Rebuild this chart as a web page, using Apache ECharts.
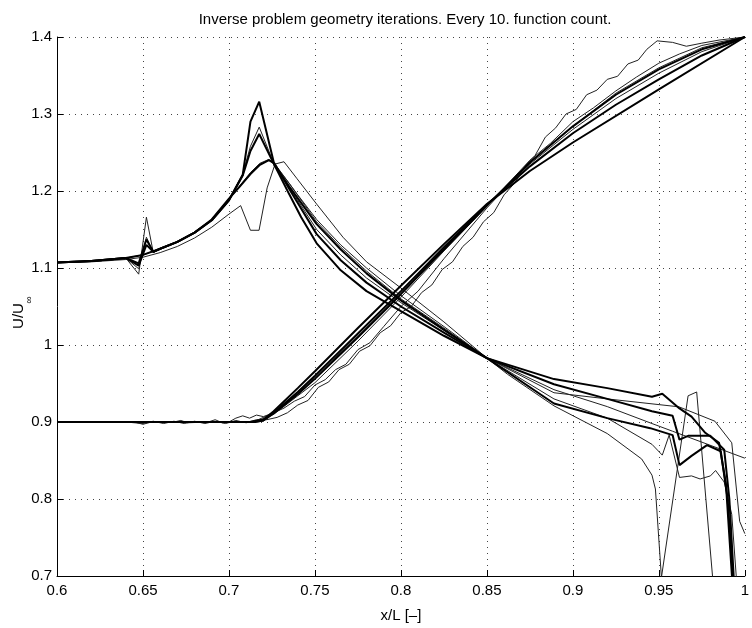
<!DOCTYPE html>
<html>
<head>
<meta charset="UTF-8">
<title>Inverse problem geometry iterations</title>
<script type="text/javascript" src="https://cdn.jsdelivr.net/npm/echarts@6.0.0/dist/echarts.min.js"></script>
</head>
<body style="margin:0">
<div id="main" style="width:752px;height:628px"></div>
<script type="text/javascript">
// velocity curves, one array of [x/L, U/Uinf] per iteration
// family A: starts at 1.107, peak near 0.72, drops at the trailing edge
var a1 = [[0.6,1.107],[0.62,1.109],[0.64,1.113],[0.6475,1.106],[0.652,1.137],[0.656,1.121],[0.66,1.125],[0.67,1.134],[0.68,1.146],[0.69,1.162],[0.7,1.188],[0.708,1.221],[0.7125,1.29],[0.7176,1.316],[0.7264,1.234],[0.735,1.196],[0.742,1.166],[0.751,1.132],[0.765,1.097],[0.78,1.07],[0.8,1.044],[0.825,1.012],[0.85,0.983],[0.889,0.924],[0.92,0.905],[0.945,0.892],[0.958,0.883],[0.962,0.844],[0.969,0.856],[0.978,0.87],[0.986,0.862],[0.99,0.8],[0.993,0.7],[0.995,0.6]];
var a2 = [[0.6,1.107],[0.62,1.109],[0.64,1.113],[0.6475,1.092],[0.652,1.166],[0.656,1.12],[0.66,1.125],[0.67,1.134],[0.68,1.146],[0.69,1.162],[0.7,1.188],[0.708,1.222],[0.7125,1.258],[0.7176,1.283],[0.7264,1.234],[0.735,1.205],[0.751,1.15],[0.765,1.117],[0.78,1.087],[0.8,1.055],[0.825,1.019],[0.85,0.983],[0.889,0.942],[0.92,0.92],[0.946,0.898],[0.958,0.888],[1.0,0.853]];
var a3 = [[0.6,1.107],[0.62,1.109],[0.64,1.113],[0.6475,1.103],[0.652,1.13],[0.656,1.121],[0.66,1.125],[0.67,1.134],[0.68,1.146],[0.69,1.162],[0.7,1.188],[0.708,1.22],[0.7125,1.252],[0.7176,1.274],[0.7264,1.234],[0.735,1.206],[0.751,1.157],[0.765,1.124],[0.78,1.093],[0.8,1.058],[0.825,1.02],[0.85,0.983],[0.889,0.9557],[0.92,0.944],[0.946,0.9328],[0.952,0.9366],[0.962,0.9176],[0.969,0.907],[0.977,0.886],[0.985,0.873],[0.989,0.82],[0.9925,0.7],[0.994,0.6]];
var a4 = [[0.6,1.107],[0.62,1.109],[0.64,1.113],[0.65,1.117],[0.66,1.125],[0.67,1.134],[0.68,1.146],[0.69,1.163],[0.7,1.19],[0.706,1.205],[0.7125,1.222],[0.718,1.234],[0.7232,1.24],[0.7264,1.236],[0.735,1.203],[0.751,1.144],[0.765,1.11],[0.78,1.081],[0.8,1.05],[0.825,1.016],[0.85,0.983],[0.889,0.949],[0.92,0.93],[0.946,0.914],[0.958,0.908],[0.962,0.877],[0.967,0.882],[0.98,0.882],[0.988,0.864],[0.991,0.8],[0.9935,0.7],[0.995,0.6]];
var a5 = [[0.6,1.107],[0.62,1.109],[0.64,1.113],[0.65,1.117],[0.66,1.125],[0.67,1.134],[0.68,1.146],[0.69,1.163],[0.7,1.19],[0.706,1.206],[0.7125,1.224],[0.718,1.236],[0.7232,1.241],[0.7264,1.236],[0.74,1.195],[0.751,1.163],[0.765,1.13],[0.78,1.1],[0.8,1.064],[0.825,1.024],[0.85,0.983],[0.889,0.938],[0.92,0.93],[0.9617,0.9197],[0.9826,0.901],[0.9924,0.873],[0.997,0.771],[1.0,0.755]];
var a6 = [[0.6,1.107],[0.62,1.108],[0.64,1.111],[0.65,1.114],[0.66,1.12],[0.67,1.128],[0.68,1.139],[0.69,1.153],[0.7,1.17],[0.7068,1.181],[0.7125,1.149],[0.7175,1.149],[0.7222,1.204],[0.7268,1.235],[0.732,1.238],[0.7394,1.2165],[0.751,1.183],[0.7663,1.14],[0.78,1.108],[0.8,1.074],[0.825,1.03],[0.85,0.983],[0.862,0.962],[0.889,0.921],[0.92,0.885],[0.94,0.852],[0.946,0.831],[0.948,0.813],[0.9515,0.698],[0.967,0.934],[0.972,0.939],[0.9812,0.7],[0.982,0.6]];
var a7 = [[0.6,1.107],[0.62,1.109],[0.64,1.113],[0.6475,1.099],[0.652,1.14],[0.656,1.12],[0.66,1.125],[0.67,1.134],[0.68,1.146],[0.69,1.163],[0.7,1.189],[0.706,1.205],[0.7125,1.223],[0.718,1.235],[0.7232,1.24],[0.7264,1.235],[0.735,1.21],[0.751,1.16],[0.765,1.127],[0.78,1.096],[0.8,1.06],[0.825,1.022],[0.85,0.983],[0.889,0.93],[0.92,0.905],[0.946,0.871],[0.952,0.857],[0.956,0.883],[0.962,0.828],[0.969,0.83],[0.974,0.826],[0.98,0.83],[0.983,0.837],[0.988,0.822],[0.9924,0.78],[0.995,0.7],[0.996,0.6]];

// family B: flat at 0.9, rising to 1.4 at the trailing edge
var b1 = [[0.6,0.9],[0.712,0.9],[0.72,0.903],[0.726,0.914],[0.74,0.944],[0.75,0.966],[0.775,1.022],[0.8,1.077],[0.825,1.131],[0.85,1.183],[0.875,1.226],[0.9,1.263],[0.95,1.332],[1.0,1.4]];
var b2 = [[0.6,0.9],[0.714,0.9],[0.72,0.902],[0.726,0.912],[0.74,0.939],[0.75,0.96],[0.775,1.015],[0.8,1.07],[0.825,1.127],[0.85,1.182],[0.875,1.232],[0.9,1.275],[0.925,1.312],[0.95,1.345],[0.975,1.376],[1.0,1.4]];
var b3 = [[0.6,0.9],[0.715,0.9],[0.72,0.902],[0.726,0.911],[0.74,0.936],[0.75,0.956],[0.775,1.01],[0.8,1.066],[0.825,1.124],[0.85,1.181],[0.875,1.237],[0.9,1.284],[0.925,1.325],[0.95,1.358],[0.975,1.384],[1.0,1.4]];
var b4 = [[0.6,0.9],[0.714,0.9],[0.726,0.912],[0.74,0.938],[0.75,0.958],[0.775,1.012],[0.8,1.068],[0.825,1.125],[0.85,1.182],[0.875,1.235],[0.9,1.28],[0.925,1.32],[0.95,1.353],[0.975,1.381],[1.0,1.4]];
var b5 = [[0.6,0.9],[0.645,0.9],[0.65,0.897],[0.655,0.9],[0.668,0.9],[0.672,0.902],[0.676,0.899],[0.688,0.9],[0.692,0.903],[0.696,0.899],[0.71,0.9],[0.716,0.901],[0.726,0.91],[0.74,0.934],[0.75,0.951],[0.775,1.005],[0.8,1.062],[0.825,1.122],[0.85,1.18],[0.875,1.24],[0.887,1.262],[0.9,1.29],[0.912,1.308],[0.925,1.33],[0.937,1.348],[0.95,1.366],[0.962,1.378],[0.975,1.389],[1.0,1.4]];
var b6 = [[0.6,0.9],[0.7,0.9],[0.704,0.905],[0.708,0.908],[0.712,0.905],[0.716,0.909],[0.72,0.907],[0.726,0.912],[0.732,0.918],[0.738,0.927],[0.744,0.933],[0.75,0.948],[0.756,0.955],[0.762,0.968],[0.768,0.975],[0.775,0.994],[0.782,1.003],[0.79,1.024],[0.8,1.05],[0.81,1.07],[0.825,1.112],[0.85,1.178],[0.875,1.238],[0.9,1.284],[0.925,1.327],[0.95,1.36],[0.975,1.386],[1.0,1.4]];
var bWavy = [[0.6,0.9],[0.64,0.9],[0.65,0.898],[0.656,0.901],[0.662,0.898],[0.668,0.901],[0.674,0.898],[0.68,0.901],[0.686,0.898],[0.692,0.901],[0.698,0.898],[0.704,0.902],[0.71,0.899],[0.716,0.903],[0.722,0.903],[0.728,0.906],[0.734,0.912],[0.74,0.922],[0.746,0.928],[0.752,0.945],[0.758,0.952],[0.764,0.968],[0.77,0.975],[0.776,0.992],[0.782,0.999],[0.788,1.016],[0.794,1.025],[0.8,1.042],[0.806,1.05],[0.812,1.068],[0.818,1.078],[0.824,1.098],[0.83,1.108],[0.836,1.128],[0.842,1.14],[0.848,1.16],[0.854,1.172],[0.86,1.195],[0.866,1.21],[0.872,1.232],[0.878,1.246],[0.884,1.27],[0.89,1.282],[0.896,1.3],[0.902,1.306],[0.908,1.325],[0.914,1.331],[0.92,1.345],[0.926,1.349],[0.932,1.365],[0.938,1.37],[0.943,1.384],[0.949,1.395],[0.958,1.393],[0.966,1.388],[0.975,1.392],[0.985,1.396],[1.0,1.4]];

var thinCurves = [a2, a5, a6, a7, b4, b5, b6, bWavy];
var thickCurves = [a1, a3, a4, b1, b2, b3];

var titleText = 'Inverse problem geometry iterations. Every 10. function count.';
var xName = 'x/L [\u2013]';
var font = 'Liberation Sans, Arial, Helvetica, sans-serif';

var myChart = echarts.init(document.getElementById('main'));

var series = [];
thinCurves.forEach(function (d) {
    series.push({type: 'line', data: d, symbol: 'none', clip: true,
        lineStyle: {color: '#222', width: 1}});
});
thickCurves.forEach(function (d) {
    series.push({type: 'line', data: d, symbol: 'none', clip: true,
        lineStyle: {color: '#000', width: 2}});
});

var gridLine = {show: true, lineStyle: {color: '#444', width: 1, type: [1, 5]}};

option = {
    backgroundColor: '#fff',
    animation: false,
    grid: {left: 57, top: 37, width: 696, height: 549},
    xAxis: {
        type: 'value', min: 0.6, max: 1, interval: 0.05,
        name: xName, nameLocation: 'middle', nameGap: 32,
        nameTextStyle: {color: '#000', fontSize: 15, fontFamily: font},
        axisLine: {show: true, onZero: false, lineStyle: {color: '#000', width: 1}},
        axisTick: {show: true, inside: true, length: 6, lineStyle: {color: '#000'}},
        axisLabel: {color: '#000', fontSize: 15, fontFamily: font, margin: 7},
        splitLine: gridLine
    },
    yAxis: {
        type: 'value', min: 0.7, max: 1.4, interval: 0.1,
        axisLine: {show: true, onZero: false, lineStyle: {color: '#000', width: 1}},
        axisTick: {show: true, inside: true, length: 6, lineStyle: {color: '#000'}},
        axisLabel: {color: '#000', fontSize: 15, fontFamily: font, margin: 5},
        splitLine: gridLine
    },
    graphic: [
        {type: 'text', x: 405, y: 20, style: {text: titleText, fill: '#000',
            font: '15px ' + font, align: 'center', verticalAlign: 'middle'}},
        {type: 'text', x: 19, y: 316, rotation: Math.PI / 2, style: {text: 'U/U', fill: '#000',
            font: '15px ' + font, align: 'center', verticalAlign: 'middle'}},
        {type: 'text', x: 29, y: 300, rotation: Math.PI / 2, style: {text: '\u221e', fill: '#000',
            font: '10px ' + font, align: 'center', verticalAlign: 'middle'}}
    ],
    series: series
};

myChart.setOption(option);
</script>
</body>
</html>
